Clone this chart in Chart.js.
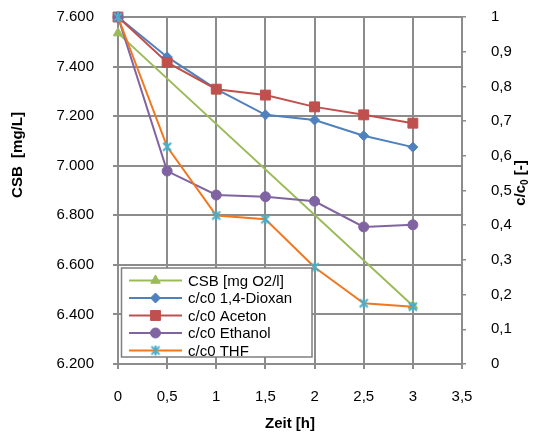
<!DOCTYPE html>
<html lang="de">
<head>
  <meta charset="UTF-8" />
  <title>CSB und c/c0 über Zeit</title>
  <script src="https://cdn.jsdelivr.net/npm/chart.js"></script>
  <style>
    html, body {
      margin: 0;
      padding: 0;
      background: #fff;
    }
  </style>
</head>
<body>
  <canvas id="chart" width="538" height="432"></canvas>

  <script>
    // time points (h)
    const zeit = [0, 0.5, 1, 1.5, 2, 2.5, 3];

    // CSB only measured at start and end
    const csbZeit = [0, 3];
    const csbWerte = [7.535, 6.435];

    // c/c0 per substance
    const dioxan = [1, 0.885, 0.792, 0.718, 0.703, 0.658, 0.625];
    const aceton = [1, 0.869, 0.792, 0.775, 0.741, 0.718, 0.694];
    const ethanol = [1, 0.556, 0.487, 0.482, 0.469, 0.395, 0.401];
    const thf = [1, 0.626, 0.428, 0.417, 0.279, 0.175, 0.165];

    const serienNamen = ['CSB [mg O2/l]', 'c/c0 1,4-Dioxan', 'c/c0 Aceton', 'c/c0 Ethanol', 'c/c0 THF'];

    const xTickLabels = ['0', '0,5', '1', '1,5', '2', '2,5', '3', '3,5'];
    const yTickLabels = ['6.200', '6.400', '6.600', '6.800', '7.000', '7.200', '7.400', '7.600'];
    const y1TickLabels = ['0', '0,1', '0,2', '0,3', '0,4', '0,5', '0,6', '0,7', '0,8', '0,9', '1'];

    const FONT = "'Liberation Sans', Arial, sans-serif";
    const GRID = '#8c8c8c';

    // asterisk-like marker (X plus vertical bar)
    function starMarker(color) {
      const c = document.createElement('canvas');
      c.width = 12;
      c.height = 12;
      const g = c.getContext('2d');
      g.strokeStyle = color;
      g.lineWidth = 2;
      g.beginPath();
      g.moveTo(2, 2); g.lineTo(10, 10);
      g.moveTo(10, 2); g.lineTo(2, 10);
      g.moveTo(6, 1); g.lineTo(6, 11);
      g.stroke();
      return c;
    }

    function toPoints(xs, ys) {
      return xs.map((x, i) => ({ x: x, y: ys[i] }));
    }

    // fixed scale sizes so the plot area sits where it should
    function fixWidth(w) {
      return function (scale) {
        scale.width = w;
        scale.paddingTop = 0;
        scale.paddingBottom = 0;
      };
    }

    const thfStar = starMarker('#4BACC6');

    function serie(label, data, color, pointColor, style, radius, axis, order) {
      return {
        label: label,
        data: data,
        yAxisID: axis,
        borderColor: color,
        backgroundColor: pointColor,
        pointBackgroundColor: pointColor,
        pointBorderColor: pointColor,
        pointStyle: style,
        pointRadius: radius,
        pointBorderWidth: 1,
        borderWidth: 2,
        tension: 0,
        clip: false,
        order: order
      };
    }

    const datasets = [
      serie(serienNamen[0], toPoints(csbZeit, csbWerte), '#9BBB59', '#9BBB59', 'triangle', 5.5, 'y', 5),
      serie(serienNamen[1], toPoints(zeit, dioxan), '#4F81BD', '#4F81BD', 'rectRot', 5, 'y1', 4),
      serie(serienNamen[2], toPoints(zeit, aceton), '#C0504D', '#C0504D', 'rect', 7, 'y1', 3),
      serie(serienNamen[3], toPoints(zeit, ethanol), '#8064A2', '#8064A2', 'circle', 5, 'y1', 2),
      serie(serienNamen[4], toPoints(zeit, thf), '#F07820', '#4BACC6', thfStar, 6, 'y1', 1)
    ];

    // axis titles + legend box inside the plot
    const decorations = {
      id: 'decorations',
      afterDraw(chart) {
        const ctx = chart.ctx;
        const area = chart.chartArea;
        ctx.save();
        ctx.fillStyle = '#000';
        ctx.textBaseline = 'middle';
        ctx.textAlign = 'center';

        // left title
        ctx.font = 'bold 15px ' + FONT;
        ctx.save();
        ctx.translate(18, 155);
        ctx.rotate(-Math.PI / 2);
        ctx.fillText('CSB  [mg/L]', 0, 0);
        ctx.restore();

        // right title with subscript
        ctx.save();
        ctx.translate(521, 183);
        ctx.rotate(-Math.PI / 2);
        ctx.textAlign = 'left';
        const a = 'c/c', sub = '0', b = ' [-]';
        ctx.font = 'bold 15px ' + FONT;
        const wa = ctx.measureText(a).width;
        const wb = ctx.measureText(b).width;
        ctx.font = 'bold 10px ' + FONT;
        const ws = ctx.measureText(sub).width;
        let x = -(wa + ws + wb) / 2;
        ctx.font = 'bold 15px ' + FONT;
        ctx.fillText(a, x, 0);
        x += wa;
        ctx.font = 'bold 10px ' + FONT;
        ctx.fillText(sub, x, 4);
        x += ws;
        ctx.font = 'bold 15px ' + FONT;
        ctx.fillText(b, x, 0);
        ctx.restore();

        // x title
        ctx.font = 'bold 15px ' + FONT;
        ctx.fillText('Zeit [h]', (area.left + area.right) / 2, 424);

        // legend
        const bx = 121.5, by = 268, bw = 190.5, bh = 89;
        ctx.fillStyle = '#fff';
        ctx.fillRect(bx, by, bw, bh);
        ctx.strokeStyle = '#7f7f7f';
        ctx.lineWidth = 1.5;
        ctx.strokeRect(bx, by, bw, bh);

        ctx.font = '15px ' + FONT;
        ctx.textAlign = 'left';
        datasets.forEach((ds, i) => {
          const y = 280.5 + i * 17.5;
          ctx.strokeStyle = ds.borderColor;
          ctx.lineWidth = 2;
          ctx.beginPath();
          ctx.moveTo(129, y);
          ctx.lineTo(182, y);
          ctx.stroke();
          ctx.fillStyle = ds.pointBackgroundColor;
          ctx.strokeStyle = ds.pointBorderColor;
          ctx.lineWidth = 1;
          Chart.helpers.drawPoint(ctx, {
            pointStyle: ds.pointStyle,
            radius: ds.pointRadius,
            rotation: 0,
            borderWidth: 1
          }, 155.5, y);
          ctx.fillStyle = '#000';
          ctx.fillText(ds.label, 188, y + 1);
        });
        ctx.restore();
      }
    };

    new Chart(document.getElementById('chart'), {
      type: 'line',
      data: { datasets: datasets },
      plugins: [decorations],
      options: {
        responsive: false,
        animation: false,
        events: [],
        layout: { autoPadding: false, padding: { top: 17, left: 0, right: 0, bottom: 0 } },
        plugins: {
          legend: { display: false },
          tooltip: { enabled: false }
        },
        scales: {
          x: {
            type: 'linear',
            min: 0,
            max: 3.5,
            afterFit(scale) {
              scale.height = 68;
              scale.paddingLeft = 0;
              scale.paddingRight = 0;
            },
            ticks: {
              stepSize: 0.5,
              padding: 19,
              color: '#000',
              font: { family: FONT, size: 15 },
              callback: (v, i) => xTickLabels[i]
            },
            grid: { color: GRID, lineWidth: 2, tickLength: 5, tickColor: GRID },
            border: { color: GRID, width: 2 }
          },
          y: {
            position: 'left',
            min: 6.2,
            max: 7.6,
            afterFit: fixWidth(118),
            ticks: {
              stepSize: 0.2,
              padding: 19,
              color: '#000',
              font: { family: FONT, size: 15 },
              callback: (v, i) => yTickLabels[i]
            },
            grid: { color: GRID, lineWidth: 2, tickLength: 5, tickColor: GRID },
            border: { color: GRID, width: 2 }
          },
          y1: {
            position: 'right',
            min: 0,
            max: 1,
            afterFit: fixWidth(76),
            ticks: {
              stepSize: 0.1,
              padding: 25,
              color: '#000',
              font: { family: FONT, size: 15 },
              callback: (v, i) => y1TickLabels[i]
            },
            grid: { drawOnChartArea: false, color: GRID, lineWidth: 1.5, tickLength: 4, tickColor: GRID },
            border: { color: GRID, width: 2 }
          }
        }
      }
    });
  </script>
</body>
</html>
